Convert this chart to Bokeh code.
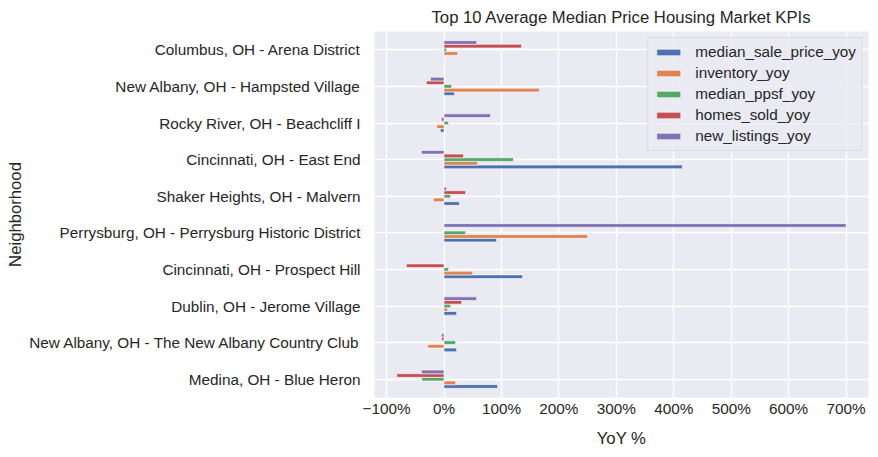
from bokeh.plotting import figure
from bokeh.models import ColumnDataSource, FactorRange, Range1d, FixedTicker, Legend, LegendItem
from bokeh.transform import dodge
from bokeh.embed import file_html
from bokeh.resources import INLINE

# Data (display order, top to bottom)
neighborhoods = [
    "Columbus, OH - Arena District",
    "New Albany, OH - Hampsted Village",
    "Rocky River, OH - Beachcliff I",
    "Cincinnati, OH - East End",
    "Shaker Heights, OH - Malvern",
    "Perrysburg, OH - Perrysburg Historic District",
    "Cincinnati, OH - Prospect Hill",
    "Dublin, OH - Jerome Village",
    "New Albany, OH - The New Albany Country Club",
    "Medina, OH - Blue Heron",
]
median_sale_price_yoy = [-1, 18.5, -6.4, 415, 27, 91.6, 137, 22, 22, 93.3]
inventory_yoy = [23.8, 166, -12.7, 58.5, -18.6, 250, 50, 6.4, -28.4, 20.3]
median_ppsf_yoy = [4.6, 13.3, 8, 121, 11.6, 37.7, 8, 11.6, 20.3, -38.8]
homes_sold_yoy = [135, -30.7, -4.6, 34, 37.7, 0, -65.5, 30.7, -4, -82.3]
new_listings_yoy = [57, -23.8, 81, -39.4, 4.6, 700, 0, 57, -4.6, -39.4]

series_names = ["median_sale_price_yoy", "inventory_yoy", "median_ppsf_yoy",
                "homes_sold_yoy", "new_listings_yoy"]
series_values = [median_sale_price_yoy, inventory_yoy, median_ppsf_yoy,
                 homes_sold_yoy, new_listings_yoy]
colors = ["#4C72B0", "#DD8452", "#55A868", "#C44E52", "#8172B3"]
x_ticks = [-100, 0, 100, 200, 300, 400, 500, 600, 700]

FONT = "Liberation Sans"
TXT = "#262626"
BG = "#EAEAF2"

factors = list(reversed(neighborhoods))  # bottom-to-top
data = {"nb": neighborhoods}
for n, v in zip(series_names, series_values):
    data[n] = v
source = ColumnDataSource(data)

p = figure(width=878, height=457, output_backend="svg", toolbar_location=None,
           y_range=FactorRange(factors=factors, range_padding=0),
           x_range=Range1d(-121, 739),
           min_border_left=374, min_border_right=10, min_border_top=31, min_border_bottom=60,
           title="Top 10 Average Median Price Housing Market KPIs")

p.background_fill_color = BG
p.border_fill_color = "white"
p.outline_line_color = None

items = []
offsets = [-0.2, -0.1, 0.0, 0.1, 0.2]
for n, c, off in zip(series_names, colors, offsets):
    r = p.hbar(y=dodge("nb", off, range=p.y_range), left=0, right=n, height=0.1,
               source=source, fill_color=c, line_color="white", line_width=0.6)
    items.append(LegendItem(label=n, renderers=[r]))

# Grid
p.xgrid.grid_line_color = "white"
p.ygrid.grid_line_color = "white"
p.xgrid.grid_line_width = 1.3
p.ygrid.grid_line_width = 1.3
p.xgrid.ticker = FixedTicker(ticks=x_ticks)

# Axes
p.xaxis.ticker = FixedTicker(ticks=x_ticks)
p.xaxis.major_label_overrides = {t: ("\u2212" + str(-t) + "%" if t < 0 else str(t) + "%") for t in x_ticks}
for ax in (p.xaxis[0], p.yaxis[0]):
    ax.axis_line_color = None
    ax.major_tick_line_color = None
    ax.minor_tick_line_color = None
    ax.major_tick_out = 0
    ax.major_tick_in = 0
    ax.major_label_text_font = FONT
    ax.major_label_text_font_size = "15.3px"
    ax.major_label_text_color = TXT
    ax.axis_label_text_font = FONT
    ax.axis_label_text_font_size = "16.7px"
    ax.axis_label_text_font_style = "normal"
    ax.axis_label_text_color = TXT

p.xaxis.axis_label = "YoY %"
p.yaxis.axis_label = "Neighborhood"
p.xaxis.major_label_standoff = 2
p.xaxis.axis_label_standoff = 9
p.yaxis.major_label_standoff = 14
p.yaxis.axis_label_standoff = 1

# Title
p.title.text_font = FONT
p.title.text_font_size = "16.7px"
p.title.text_font_style = "normal"
p.title.text_color = TXT
p.title.align = "center"

legend = Legend(items=items, location="top_right")
legend.label_text_font = FONT
legend.label_text_font_size = "15.3px"
legend.label_text_color = TXT
legend.glyph_width = 30
legend.glyph_height = 8
legend.label_height = 17
legend.label_standoff = 12
legend.spacing = 3
legend.padding = 5
legend.margin = 6
legend.background_fill_color = BG
legend.background_fill_alpha = 0.8
legend.border_line_color = "#cccccc"
legend.border_line_width = 1
p.add_layout(legend)

open("out.html", "w").write(file_html(p, INLINE))
